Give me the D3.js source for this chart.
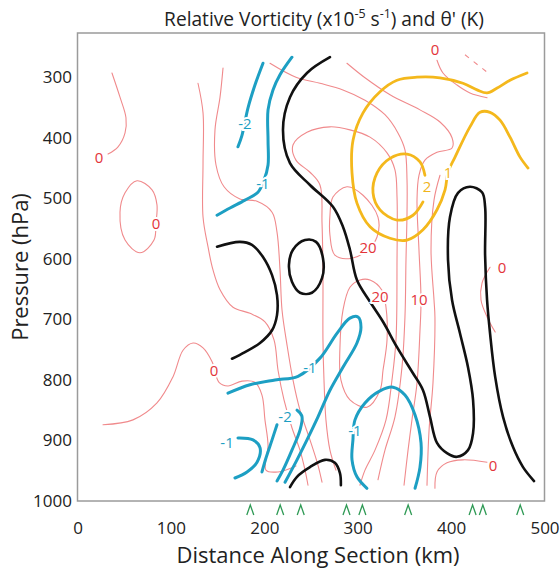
<!DOCTYPE html>
<html>
<head>
<meta charset="utf-8">
<script src="https://cdn.jsdelivr.net/npm/d3@7"></script>
<style>
  body { margin: 0; background: #fff; }
  svg { font-family: "Open Sans", sans-serif; }
</style>
</head>
<body>
<svg id="chart" width="560" height="571"></svg>
<script>
// ticks and stations
var xTicks = [0, 100, 200, 300, 400, 500];
var pTicks = [300, 400, 500, 600, 700, 800, 900, 1000];
var stationKm = [185, 217, 239, 288, 305, 354, 423, 434, 474];

// thin red contours, points are [km, hPa]
var red0West = [[36.9,293],[45.5,333],[51.9,367],[50.9,392],[43.4,415],[32.7,427]];
var red0Loop = [[63.7,471],[79.8,486],[85.1,511],[84,541],[81.9,569],[66.9,590],[50.9,569],[45.5,523],[50.9,491]];
var redA = [[129,310],[134.4,359],[134.4,442],[134.4,531],[139.7,580],[145,618],[152.6,651],[166.5,680],[184.7,690],[200.7,704],[210.4,734],[214.7,784],[221.1,833],[229.6,879],[238.2,916],[243.6,949],[246.8,974]];
var redB = [[155.8,285],[152.6,333],[147.2,387],[148.3,445],[156.9,481],[173.9,501],[192.2,505],[208.3,523],[213.6,556],[216.8,618],[219,685],[224.3,742],[230.7,800],[238.2,850],[248.9,899],[257.5,941],[261.8,969]];
var redDome = [[276.7,949],[270.3,916],[266,866],[263.9,800],[262.8,734],[262.8,623],[261.8,541],[259.6,478],[248.9,457],[233.9,437],[230.7,412],[245.7,391],[270.3,382],[291.7,387],[313.2,399],[331.4,425],[339.9,453],[342.1,498],[342.1,602],[341,734],[336.7,800],[330.3,866],[318.5,916],[307.8,949],[302.4,974]];
var redC = [[206.1,277],[233.9,300],[259.6,310],[284.2,321],[307.8,338],[329.2,362],[343.1,392],[350.6,420],[352.8,470],[352.8,524],[351.7,602],[350.6,696],[347.4,779],[339.9,861],[329.2,916],[321.7,965]];
var redD = [[288.5,277],[307.8,301],[334.6,329],[366.7,354],[388.1,374],[401,400],[401,417],[384.9,424],[372,437],[365.6,462],[363.5,503],[365.6,585],[367.8,668],[366.7,718],[363.5,805],[358.1,866],[353.9,916],[349.6,974]];
var redE = [[388.1,462],[381.7,503],[378.5,585],[381.7,668],[382.7,696],[380.6,805],[376.4,883],[374.2,974]];
var red20a = [[273.5,498],[288.5,481],[305.7,495],[321.7,531],[320.7,564],[311,585],[293.9,599],[275.6,594],[270.3,561],[270.3,528]];
var red20b = [[291.7,647],[302.4,635],[313.2,635],[326,652],[330.3,680],[331.4,734],[327.1,784],[323.9,817],[309.9,845],[291.7,833],[282,800],[281,746],[284.2,685]];
var red0Top = [[384.9,272],[391.3,293],[406.3,313],[420.2,326],[438.5,334]];
var redDash = [[414.9,263],[439.6,293]];
var red0East = [[441.7,614],[433.1,640],[432,668],[438.5,696],[447.2,721]];
var red0South = [[382.7,979],[384.9,952],[395.6,937],[412.7,932],[438.5,936]];
var red0Mid = [[27.3,874],[59.4,866],[85.1,838],[102.2,795],[113,751],[123.7,739],[134.4,747],[144.1,770],[151.5,804],[161.1,810],[176.1,802],[190,804],[197.5,825],[200.7,866],[204,908],[201.8,949],[214.7,952],[233.9,942]];
var redLabels = [[23,432,"0"],[84,541,"0"],[146.1,785,"0"],[311,582,"20"],[323.9,663,"20"],[365.6,668,"10"],[454.6,614,"0"],[445,942,"0"],[382.7,255,"0"]];

// cyan (negative) contours
var cyanM2Top = [[198.6,277],[190,313],[182.5,351],[176.1,396],[171.8,415]];
var cyanM1Top = [[229.6,267],[216.8,296],[209.3,321],[204,354],[204,404],[204,445],[199.7,470],[193.2,490],[179.3,503],[163.3,516],[149.4,528]];
var cyanM1Mid = [[161.1,822],[184.7,808],[211.5,800],[236.1,794],[259.6,764],[277.8,723],[291.7,698],[300.3,696],[303.5,713],[299.2,739],[284.2,779],[270.3,817],[257.5,861],[245.7,899],[235,932],[222.2,969]];
var cyanM1Hook = [[171.8,896],[187.9,899],[195.4,912],[192.2,936],[181.5,952],[168.6,962]];
var cyanM2a = [[213.6,874],[208.3,899],[201.8,929],[197.5,952]];
var cyanM2b = [[235,850],[240.3,860],[238.2,883],[229.6,916],[220,949],[213.6,967]];
var cyanM1East = [[309.9,979],[299.2,960],[293.9,932],[294.9,899],[297.1,866],[307.8,838],[323.9,818],[337.8,812],[350.6,825],[361.4,858],[367.8,904],[366.7,944],[361.4,979]];
var cyanLabels = [[179.3,376,"-2"],[198.6,476,"-1"],[248.9,779,"-1"],[222.2,861,"-2"],[160.1,904,"-1"],[297.1,883,"-1"]];

// black (zero) contours
var blackMain = [[270.3,267],[245.7,293],[227.5,333],[220,387],[227.5,442],[248.9,478],[273.5,514],[284.2,547],[291.7,585],[299.2,635],[313.2,671],[327.1,704],[342.1,746],[359.2,789],[369.9,817],[377.4,861],[384.9,904],[395.6,921],[406.3,927],[418.1,916],[423.5,888],[423.5,833],[418.1,779],[409.5,723],[401,668],[396.7,602],[398.8,531],[407.4,491],[420.2,481],[433.1,490],[436.4,514],[436.4,594],[438.5,668],[441.7,723],[447.2,795],[455.6,861],[466.3,911],[477,944],[488.8,967]];
var blackWest = [[149.4,580],[173.9,572],[186.8,577],[198.6,597],[208.3,627],[213.6,660],[213.6,693],[208.3,718],[195.4,739],[179.3,754],[165.4,765]];
var blackLoop = [[230.7,585],[243.6,569],[255.4,572],[262.8,599],[261.8,632],[251,656],[238.2,656],[229.6,638],[226.4,610]];
var blackSouth = [[227.5,977],[235,960],[248.9,944],[265,932],[275.6,937],[281,954],[282,974]];

// yellow (positive) contours
var yellow1 = [[481.3,293],[463.1,305],[449.3,318],[438.5,326],[427.8,321],[412.7,310],[388.1,301],[363.5,300],[342.1,305],[323.9,324],[305.7,359],[295,404],[293.9,458],[299.2,508],[313.2,547],[334.6,566],[352.8,569],[369.9,552],[384.9,519],[393.5,486],[396.7,457],[404.2,432],[420.2,382],[431,358],[441.7,358],[452.4,371],[463.1,399],[473.8,432],[482.4,450]];
var yellow2 = [[369.9,506],[359.2,528],[342.1,536],[323.9,519],[316.4,491],[320.7,458],[334.6,434],[352.8,427],[366.7,440],[372,462]];
var yellowLabels = [[396.7,457,"1"],[374.2,481,"2"]];

var svg = d3.select("#chart");

var x = d3.scaleLinear().domain([0, 500]).range([77.5, 544.5]);
var y = d3.scaleLinear().domain([227, 1000]).range([33, 501]);

var line = d3.line()
    .x(function (d) { return x(d[0]); })
    .y(function (d) { return y(d[1]); })
    .curve(d3.curveCatmullRom.alpha(0.5));
var loop = d3.line()
    .x(function (d) { return x(d[0]); })
    .y(function (d) { return y(d[1]); })
    .curve(d3.curveCatmullRomClosed.alpha(0.5));

// frame
svg.append("rect")
    .attr("x", x(0))
    .attr("y", y(227))
    .attr("width", x(500) - x(0))
    .attr("height", y(1000) - y(227))
    .attr("fill", "none")
    .attr("stroke", "#9b9b9b")
    .attr("stroke-width", 1.5);

function drawLines(list, color, width, closed) {
    svg.append("g")
        .selectAll("path")
        .data(list)
        .enter()
        .append("path")
        .attr("d", closed ? loop : line)
        .attr("fill", "none")
        .attr("stroke", color)
        .attr("stroke-width", width)
        .attr("stroke-linecap", "round");
}

function drawLabels(list, color) {
    svg.append("g")
        .selectAll("text")
        .data(list)
        .enter()
        .append("text")
        .attr("x", function (d) { return x(d[0]); })
        .attr("y", function (d) { return y(d[1]); })
        .attr("dy", "0.36em")
        .attr("text-anchor", "middle")
        .attr("font-size", 15)
        .attr("fill", color)
        .attr("stroke", "#fff")
        .attr("stroke-width", 4)
        .attr("paint-order", "stroke")
        .text(function (d) { return d[2]; });
}

var redColor = "#f08a8c";
drawLines([red0West, redA, redB, redDome, redC, redD, redE, red0Top, red0East, red0South, red0Mid], redColor, 1.1, false);
drawLines([red0Loop, red20a, red20b], redColor, 1.1, true);
svg.append("path")
    .datum(redDash)
    .attr("d", d3.line().x(function (d) { return x(d[0]); }).y(function (d) { return y(d[1]); }))
    .attr("fill", "none")
    .attr("stroke", redColor)
    .attr("stroke-width", 1.1)
    .attr("stroke-dasharray", "5,6");

drawLines([yellow1, yellow2], "#f4b81c", 2.8, false);
drawLines([cyanM2Top, cyanM1Top, cyanM1Mid, cyanM1Hook, cyanM2a, cyanM2b, cyanM1East], "#1d9fc3", 3, false);
drawLines([blackMain, blackWest, blackSouth], "#111", 2.6, false);
drawLines([blackLoop], "#111", 2.6, true);

drawLabels(redLabels, "#e3343a");
drawLabels(cyanLabels, "#1d9fc3");
drawLabels(yellowLabels, "#f0b41c");

// station marks under the axis
svg.append("g")
    .selectAll("path")
    .data(stationKm)
    .enter()
    .append("path")
    .attr("transform", function (d) { return "translate(" + x(d) + ",510)"; })
    .attr("d", "M-3.5,5L0,-5L3.5,5")
    .attr("fill", "none")
    .attr("stroke", "#2f9a55")
    .attr("stroke-width", 1.3);

// axes, labels only
var xAxis = svg.append("g")
    .attr("transform", "translate(0," + y(1000) + ")")
    .call(d3.axisBottom(x).tickValues(xTicks).tickFormat(d3.format("d")).tickSize(0).tickPadding(21));
var yAxis = svg.append("g")
    .attr("transform", "translate(" + x(0) + ",0)")
    .call(d3.axisLeft(y).tickValues(pTicks).tickFormat(d3.format("d")).tickSize(0).tickPadding(5.5));
[xAxis, yAxis].forEach(function (g) {
    g.select(".domain").remove();
    g.attr("font-family", null).attr("font-size", null);
    g.selectAll("text").attr("font-size", 17).attr("fill", "#222");
});

// fit a text to a target width
function fitWidth(sel, target, base) {
    sel.attr("font-size", base);
    var w = sel.node().getComputedTextLength();
    sel.attr("font-size", base * target / w);
}

var xTitle = svg.append("text")
    .attr("x", 318)
    .attr("y", 563)
    .attr("text-anchor", "middle")
    .attr("fill", "#222")
    .text("Distance Along Section (km)");
fitWidth(xTitle, 283, 18);

svg.append("text")
    .attr("transform", "translate(28,267) rotate(-90)")
    .attr("text-anchor", "middle")
    .attr("fill", "#222")
    .attr("font-size", xTitle.attr("font-size"))
    .text("Pressure (hPa)");

var title = svg.append("text")
    .attr("x", 324)
    .attr("y", 26)
    .attr("text-anchor", "middle")
    .attr("fill", "#222");
title.append("tspan").text("Relative Vorticity (x10");
title.append("tspan").attr("baseline-shift", "super").attr("font-size", "65%").text("-5");
title.append("tspan").text(" s");
title.append("tspan").attr("baseline-shift", "super").attr("font-size", "65%").text("-1");
title.append("tspan").text(") and \u03b8' (K)");
fitWidth(title, 320, 15);
</script>
</body>
</html>
